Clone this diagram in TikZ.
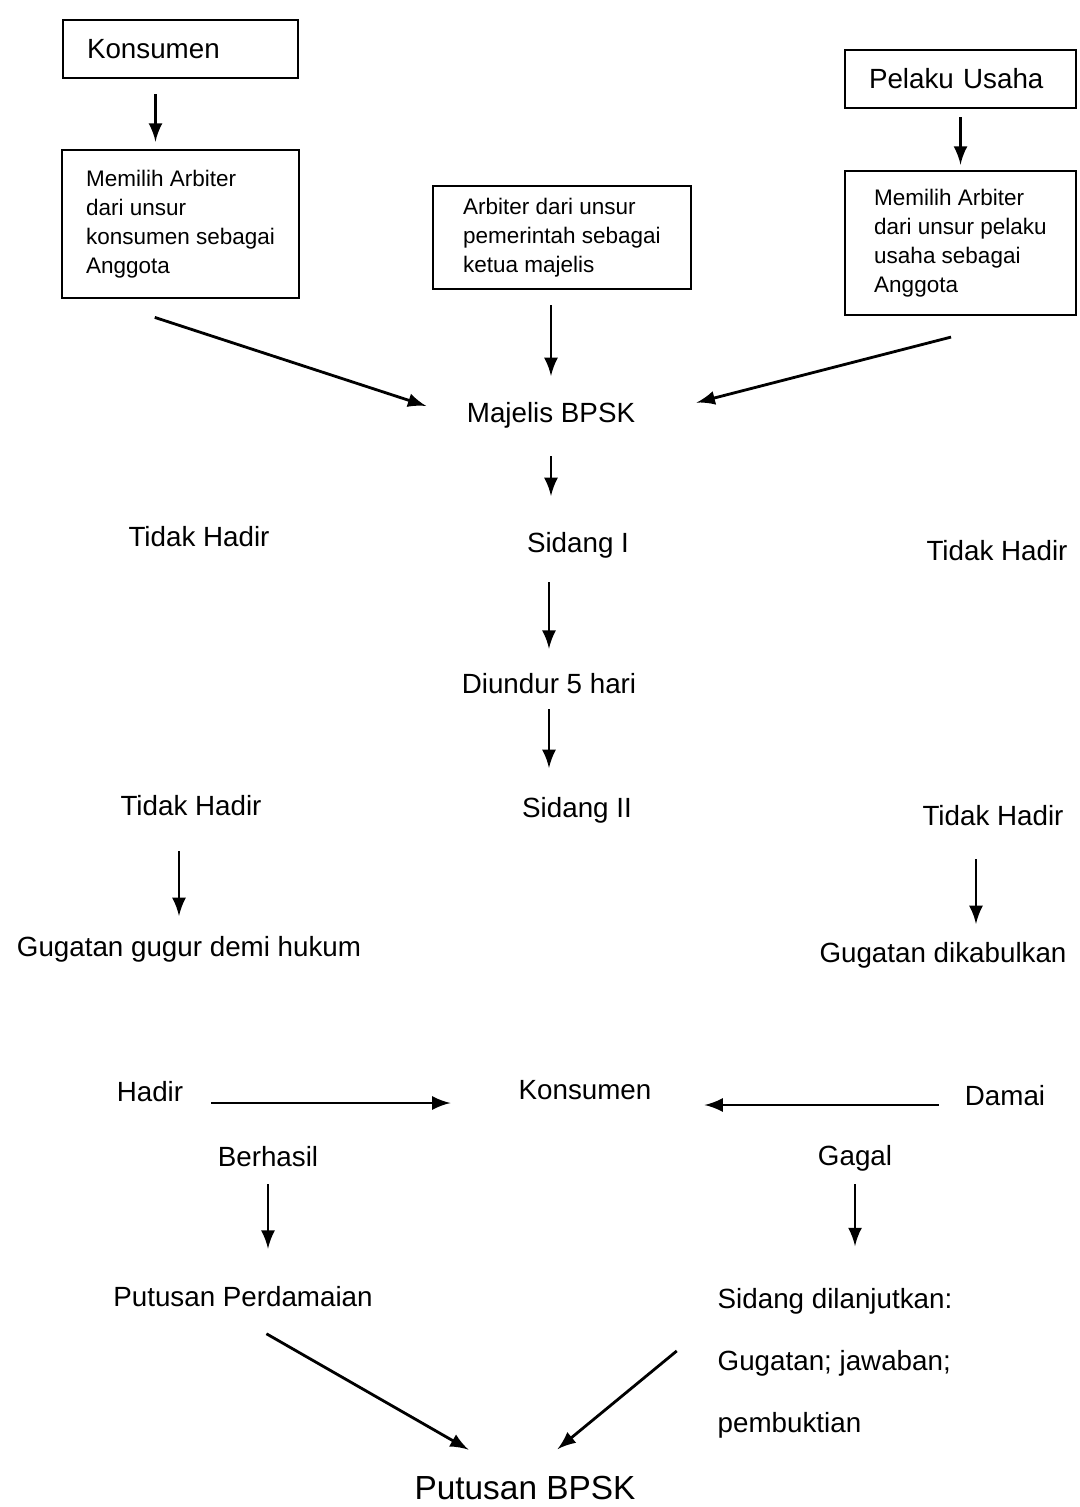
\documentclass[tikz,border=0pt]{standalone}
\usepackage{fontspec}
\setmainfont{Liberation Sans}
\usetikzlibrary{arrows, positioning}

\tikzset{
    kotak/.style={draw, thick, rectangle, inner xsep=0.24cm, align=left},
    kotakatas/.style={kotak, minimum height=0.58cm, font=\fontsize{7.9}{9.5}\selectfont},
    kotakisi/.style={kotak, font=\fontsize{6.4}{8.3}\selectfont},
    teks/.style={font=\fontsize{7.9}{9.5}\selectfont}
}

\begin{document}
\begin{tikzpicture}[->,>=latex,shorten >=1pt,auto,node distance=1.3cm,thick]
                    \useasboundingbox (0,0) rectangle (10.8,-15.07);
                    \node[kotakatas, text width=1.87cm] (konsumen) at (1.805,-0.49) {Konsumen};
                    \node[kotakisi, minimum width=2.37cm, minimum height=1.48cm] (pilihk) [below of = konsumen, node distance=1.75cm] {Memilih Arbiter\\dari unsur\\konsumen sebagai\\Anggota};
                    \node[kotakisi, minimum width=2.58cm, minimum height=1.03cm] (ketua) at (5.62,-2.375) {Arbiter dari unsur\\pemerintah sebagai\\ketua majelis};
                    \node[kotakatas, text width=1.83cm] (pelaku) at (9.605,-0.79) {Pelaku Usaha};
                    \node[kotakisi, minimum width=2.31cm, minimum height=1.44cm] (pilihp) [below of = pelaku, node distance=1.64cm] {Memilih Arbiter\\dari unsur pelaku\\usaha sebagai\\Anggota};
                    \node[teks] (majelis) at (5.51,-4.15) {Majelis BPSK};
                    \node[teks] (sidang1) [below of = majelis, node distance=1.3cm, xshift=0.27cm] {Sidang I};
                    \node[teks] (tidakkiri1) [left of = sidang1, node distance=3.79cm, yshift=0.08cm] {Tidak Hadir};
                    \node[teks] (tidakkanan1) [right of = sidang1, node distance=4.19cm, yshift=-0.06cm] {Tidak Hadir};
                    \node[teks] (diundur) [below of = sidang1, node distance=1.39cm, xshift=-0.29cm] {Diundur 5 hari};
                    \node[teks] (sidang2) [below of = diundur, node distance=1.26cm, xshift=0.28cm] {Sidang II};
                    \node[teks] (tidakkiri2) [left of = sidang2, node distance=3.86cm, yshift=0.04cm] {Tidak Hadir};
                    \node[teks] (tidakkanan2) [right of = sidang2, node distance=4.16cm, yshift=-0.06cm] {Tidak Hadir};
                    \node[teks] (gugur) [below of = tidakkiri2, node distance=1.43cm, xshift=-0.02cm] {Gugatan gugur demi hukum};
                    \node[teks] (kabul) [below of = tidakkanan2, node distance=1.39cm, xshift=-0.50cm] {Gugatan dikabulkan};
                    \node[teks] (konsumen2) [below of = sidang2, node distance=2.80cm, xshift=0.08cm] {Konsumen};
                    \node[teks] (hadir) [left of = konsumen2, node distance=4.35cm, yshift=-0.02cm] {Hadir};
                    \node[teks] (damai) [right of = konsumen2, node distance=4.20cm, yshift=-0.06cm] {Damai};
                    \node[teks] (berhasil) [below of = hadir, node distance=0.65cm, xshift=1.18cm] {Berhasil};
                    \node[teks] (gagal) [below of = damai, node distance=0.62cm, xshift=-1.50cm] {Gagal};
                    \node[teks] (perdamaian) [below of = berhasil, node distance=1.40cm, xshift=-0.25cm] {Putusan Perdamaian};
                    \node[teks, align=left, font=\fontsize{7.9}{17.6}\selectfont] (lanjut) [below of = gagal, node distance=2.05cm, xshift=-0.20cm] {Sidang dilanjutkan:\\Gugatan; jawaban;\\pembuktian};
                    \node[teks, font=\fontsize{9.5}{11.4}\selectfont] (putusan) [below of = konsumen2, node distance=3.98cm, xshift=-0.60cm] {Putusan BPSK};
                    \path
                    ([xshift=-0.25cm]konsumen.south) edge[shorten <=0.15cm, shorten >=0.07cm] ([xshift=-0.25cm]konsumen.south |- pilihk.north)
                    (pelaku.south) edge[shorten <=0.08cm, shorten >=0.05cm] (pelaku.south |- pilihp.north)
                    (pilihk.223) edge[shorten <=0.58cm, shorten >=0.29cm] (majelis.west)
                    (majelis.north |- ketua.south) edge[shorten <=0.15cm, shorten >=0.13cm] (majelis.north)
                    (pilihp.314) edge[shorten <=0.83cm, shorten >=0.5cm] (majelis.east)
                    (majelis.south) edge[shorten <=0.15cm, shorten >=0.23cm] (majelis.south |- sidang1.north)
                    (diundur.north |- sidang1.south) edge[shorten <=0.11cm, shorten >=0.12cm] (diundur.north)
                    (diundur.south) edge[shorten <=0.02cm, shorten >=0.16cm] (diundur.south |- sidang2.north)
                    ([xshift=-0.12cm]tidakkiri2.south) edge[shorten <=0.22cm, shorten >=0.07cm] ([xshift=-0.12cm]tidakkiri2.south |- gugur.north)
                    ([xshift=-0.17cm]tidakkanan2.south) edge[shorten <=0.2cm, shorten >=0.05cm] ([xshift=-0.17cm]tidakkanan2.south |- kabul.north)
                    ([yshift=-0.11cm]hadir.east) edge[shorten <=0.15cm, shorten >=0.55cm] ([yshift=-0.11cm]hadir.east -| konsumen2.west)
                    ([yshift=-0.09cm]damai.west) edge[shorten <=0.13cm, shorten >=0.4cm] ([yshift=-0.09cm]damai.west -| konsumen2.east)
                    (berhasil.south) edge[shorten <=0.04cm, shorten >=0.25cm] (berhasil.south |- perdamaian.north)
                    (gagal.south) edge[shorten <=0cm, shorten >=0.29cm] (gagal.south |- lanjut.north)
                    (perdamaian.south) edge[shorten <=0.27cm, shorten >=0.27cm] (putusan.143)
                    (lanjut.165) edge[shorten <=0.36cm, shorten >=0.22cm] (putusan.58)
                    ;
\end{tikzpicture}
\end{document}
